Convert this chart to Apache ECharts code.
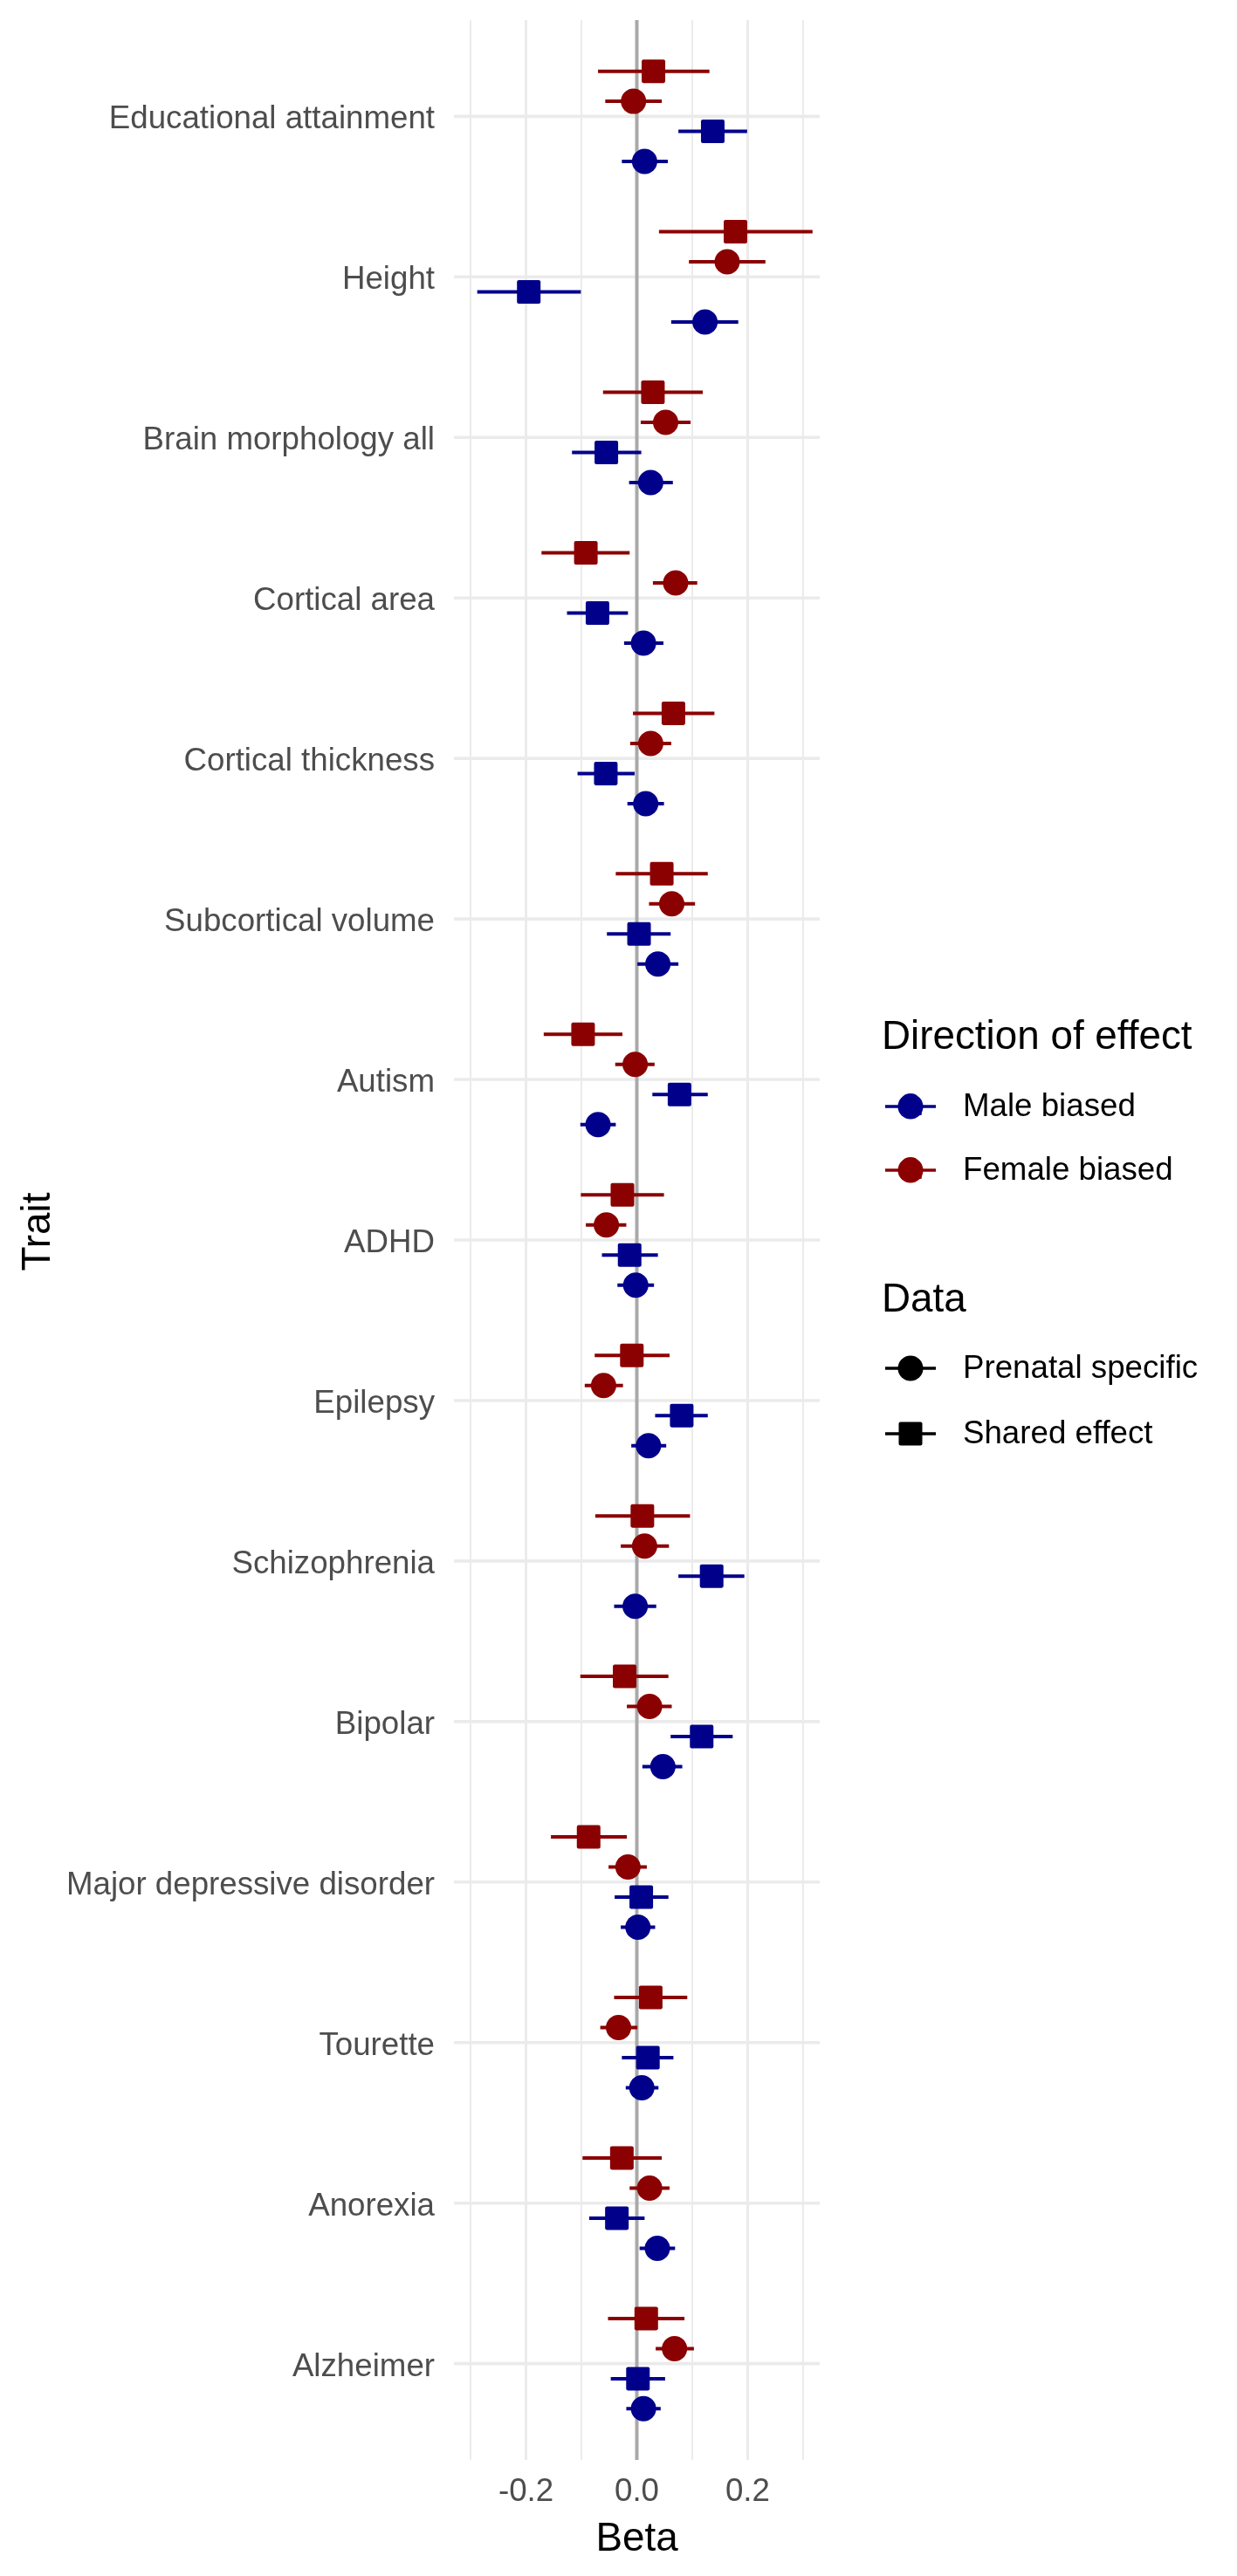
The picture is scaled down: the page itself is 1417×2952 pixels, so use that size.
<!DOCTYPE html>
<html>
<head>
<meta charset="utf-8">
<script src="https://cdn.jsdelivr.net/npm/echarts@6/dist/echarts.min.js"></script>
<style>
html,body{margin:0;padding:0;background:#fff;}
#chart{width:1417px;height:2952px;}
</style>
</head>
<body>
<div id="chart"></div>
<script>
// ---------- DATA ----------
const traits = ["Educational attainment","Height","Brain morphology all","Cortical area","Cortical thickness","Subcortical volume","Autism","ADHD","Epilepsy","Schizophrenia","Bipolar","Major depressive disorder","Tourette","Anorexia","Alzheimer"];

const femaleSharedBeta = [0.030,0.178,0.029,-0.092,0.066,0.045,-0.097,-0.026,-0.009,0.010,-0.022,-0.087,0.025,-0.027,0.017];
const femaleSharedLo   = [-0.070,0.040,-0.061,-0.172,-0.007,-0.038,-0.168,-0.101,-0.076,-0.075,-0.102,-0.155,-0.041,-0.098,-0.052];
const femaleSharedHi   = [0.131,0.317,0.119,-0.013,0.140,0.128,-0.026,0.049,0.059,0.096,0.057,-0.018,0.091,0.045,0.086];

const femalePrenatalBeta = [-0.006,0.163,0.052,0.070,0.025,0.063,-0.003,-0.055,-0.060,0.014,0.023,-0.016,-0.033,0.023,0.068];
const femalePrenatalLo   = [-0.057,0.094,0.007,0.029,-0.012,0.022,-0.039,-0.092,-0.094,-0.029,-0.018,-0.051,-0.066,-0.013,0.034];
const femalePrenatalHi   = [0.045,0.232,0.097,0.109,0.062,0.105,0.032,-0.019,-0.025,0.058,0.063,0.018,0.001,0.059,0.103];

const maleSharedBeta = [0.137,-0.195,-0.055,-0.071,-0.056,0.004,0.077,-0.013,0.081,0.135,0.117,0.008,0.020,-0.036,0.002];
const maleSharedLo   = [0.075,-0.288,-0.117,-0.126,-0.107,-0.054,0.028,-0.063,0.033,0.075,0.061,-0.040,-0.027,-0.086,-0.047];
const maleSharedHi   = [0.199,-0.101,0.008,-0.016,-0.004,0.061,0.128,0.038,0.128,0.194,0.173,0.057,0.066,0.014,0.051];

const malePrenatalBeta = [0.014,0.123,0.025,0.012,0.016,0.038,-0.070,-0.002,0.021,-0.003,0.047,0.002,0.009,0.037,0.012];
const malePrenatalLo   = [-0.027,0.062,-0.014,-0.023,-0.017,0.001,-0.102,-0.035,-0.010,-0.041,0.010,-0.029,-0.020,0.005,-0.019];
const malePrenatalHi   = [0.056,0.183,0.065,0.048,0.049,0.075,-0.038,0.031,0.053,0.035,0.082,0.033,0.039,0.069,0.043];

const xTickLabels = [-0.2, 0.0, 0.2];
const xMinorGrid = [-0.3, -0.1, 0.1, 0.3];
const refLine = [0];

// ---------- STYLE / LAYOUT ----------
const MALE = '#00008B', FEMALE = '#8B0000';
const FONT = '"Liberation Sans", Arial, Helvetica, sans-serif';
const X_MIN = -0.33, X_MAX = 0.33, Y_MIN = 0.4, Y_MAX = traits.length + 0.6;
const DODGE = { femaleShared: -0.28125, femalePrenatal: -0.09375, maleShared: 0.09375, malePrenatal: 0.28125 };
const SQUARE = 'path://M2,0H24A2,2,0,0,1,26,2V24A2,2,0,0,1,24,26H2A2,2,0,0,1,0,24V2A2,2,0,0,1,2,0Z';

const catPos = traits.map((t, i) => i + 1);

function pts(beta, off) { return beta.map((b, i) => [b, catPos[i] + off]); }
function bars(lo, hi, off) { return lo.map((l, i) => [l, hi[i], catPos[i] + off]); }

function barSeries(name, lo, hi, off, color) {
  return {
    name: name + ' CI', type: 'custom', z: 3, silent: true,
    encode: { x: [0, 1], y: 2 },
    data: bars(lo, hi, off),
    renderItem: function (params, api) {
      const p1 = api.coord([api.value(0), api.value(2)]);
      const p2 = api.coord([api.value(1), api.value(2)]);
      return { type: 'line', shape: { x1: p1[0], y1: p1[1], x2: p2[0], y2: p2[1] },
               style: { stroke: color, lineWidth: 4 } };
    }
  };
}
function pointSeries(name, beta, off, color, symbol, size) {
  return {
    name: name, type: 'scatter', z: 4, symbol: symbol, symbolSize: size,
    itemStyle: { color: color, opacity: 1 },
    data: pts(beta, off)
  };
}
function vGrid(values, width, color, z) {
  return {
    type: 'custom', z: z, silent: true, encode: { x: 0, y: 1 },
    data: values.map(v => [v, 1]),
    renderItem: function (params, api) {
      const cs = params.coordSys;
      const x = api.coord([api.value(0), 1])[0];
      return { type: 'line', shape: { x1: x, y1: cs.y, x2: x, y2: cs.y + cs.height },
               style: { stroke: color, lineWidth: width } };
    }
  };
}
function hGrid(values, width, color, z) {
  return {
    type: 'custom', z: z, silent: true, encode: { x: 0, y: 1 },
    data: values.map(v => [0, v]),
    renderItem: function (params, api) {
      const cs = params.coordSys;
      const y = api.coord([0, api.value(1)])[1];
      return { type: 'line', shape: { x1: cs.x, y1: y, x2: cs.x + cs.width, y2: y },
               style: { stroke: color, lineWidth: width } };
    }
  };
}

const chart = echarts.init(document.getElementById('chart'), null, { renderer: 'canvas' });

const LX = 1014, LX2 = 1072, LC = 1043, LT = 1103;
function keyLine(y, color) {
  return { type: 'line', shape: { x1: LX, y1: y, x2: LX2, y2: y }, style: { stroke: color, lineWidth: 3.6 }, z: 10 };
}
function legendText(txt, y, size) {
  return { type: 'text', x: (size > 40 ? 1010 : LT), y: y, z: 10,
           style: { text: txt, fill: '#000', font: size + 'px ' + FONT, textVerticalAlign: 'middle', textAlign: 'left' } };
}
const Y_MB = 1268, Y_FB = 1341, Y_PS = 1568, Y_SE = 1643;

const option = {
  animation: false,
  backgroundColor: '#fff',
  textStyle: { fontFamily: FONT },
  grid: { left: 520, top: 23, right: 478, bottom: 133, containLabel: false },
  xAxis: {
    type: 'value', min: X_MIN, max: X_MAX,
    name: 'Beta', nameLocation: 'middle', nameGap: 68,
    nameTextStyle: { fontSize: 45.8, color: '#000', fontFamily: FONT },
    axisLine: { show: false }, axisTick: { show: false }, splitLine: { show: false },
    axisLabel: { customValues: xTickLabels, formatter: v => v.toFixed(1), fontSize: 36.7, color: '#4D4D4D', margin: 18, fontFamily: FONT }
  },
  yAxis: {
    type: 'value', min: Y_MIN, max: Y_MAX, inverse: true,
    name: 'Trait', nameLocation: 'middle', nameGap: 453, nameRotate: 90,
    nameTextStyle: { fontSize: 45.8, color: '#000', fontFamily: FONT, padding: [0, 0, 0, 19] },
    axisLine: { show: false }, axisTick: { show: false }, splitLine: { show: false },
    axisLabel: { customValues: catPos, formatter: v => traits[Math.round(v) - 1] || '', fontSize: 36.7, color: '#4D4D4D', margin: 22, fontFamily: FONT, verticalAlign: 'top', lineHeight: 8 }
  },
  series: [
    hGrid(catPos, 3.6, '#EBEBEB', 1),
    vGrid(xMinorGrid, 2, '#EBEBEB', 1),
    vGrid(xTickLabels, 3, '#EBEBEB', 1),
    vGrid(refLine, 4, '#A9A9A9', 2),
    barSeries('Female shared', femaleSharedLo, femaleSharedHi, DODGE.femaleShared, FEMALE),
    barSeries('Female prenatal', femalePrenatalLo, femalePrenatalHi, DODGE.femalePrenatal, FEMALE),
    barSeries('Male shared', maleSharedLo, maleSharedHi, DODGE.maleShared, MALE),
    barSeries('Male prenatal', malePrenatalLo, malePrenatalHi, DODGE.malePrenatal, MALE),
    pointSeries('Female biased – Shared effect', femaleSharedBeta, DODGE.femaleShared, FEMALE, SQUARE, 27),
    pointSeries('Female biased – Prenatal specific', femalePrenatalBeta, DODGE.femalePrenatal, FEMALE, 'circle', 29),
    pointSeries('Male biased – Shared effect', maleSharedBeta, DODGE.maleShared, MALE, SQUARE, 27),
    pointSeries('Male biased – Prenatal specific', malePrenatalBeta, DODGE.malePrenatal, MALE, 'circle', 29)
  ],
  graphic: [
    legendText('Direction of effect', 1189, 45.8),
    // Male biased key
    { type: 'text', x: LC, y: Y_MB + 20, z: 9, style: { text: 'a', fill: MALE, font: '46px ' + FONT, textAlign: 'center', textVerticalAlign: 'bottom' } },
    keyLine(Y_MB, MALE),
    { type: 'circle', shape: { cx: LC, cy: Y_MB, r: 14.5 }, style: { fill: MALE }, z: 10 },
    legendText('Male biased', Y_MB + 1, 36.7),
    // Female biased key
    { type: 'text', x: LC, y: Y_FB + 20, z: 9, style: { text: 'a', fill: FEMALE, font: '46px ' + FONT, textAlign: 'center', textVerticalAlign: 'bottom' } },
    keyLine(Y_FB, FEMALE),
    { type: 'circle', shape: { cx: LC, cy: Y_FB, r: 14.5 }, style: { fill: FEMALE }, z: 10 },
    legendText('Female biased', Y_FB + 1, 36.7),
    legendText('Data', 1490, 45.8),
    keyLine(Y_PS, '#000'),
    { type: 'circle', shape: { cx: LC, cy: Y_PS, r: 14.5 }, style: { fill: '#000' }, z: 10 },
    legendText('Prenatal specific', Y_PS + 1, 36.7),
    keyLine(Y_SE, '#000'),
    { type: 'rect', shape: { x: LC - 13.5, y: Y_SE - 13.5, width: 27, height: 27, r: 2 }, style: { fill: '#000' }, z: 10 },
    legendText('Shared effect', Y_SE + 1, 36.7)
  ]
};
chart.setOption(option);
</script>
</body>
</html>
